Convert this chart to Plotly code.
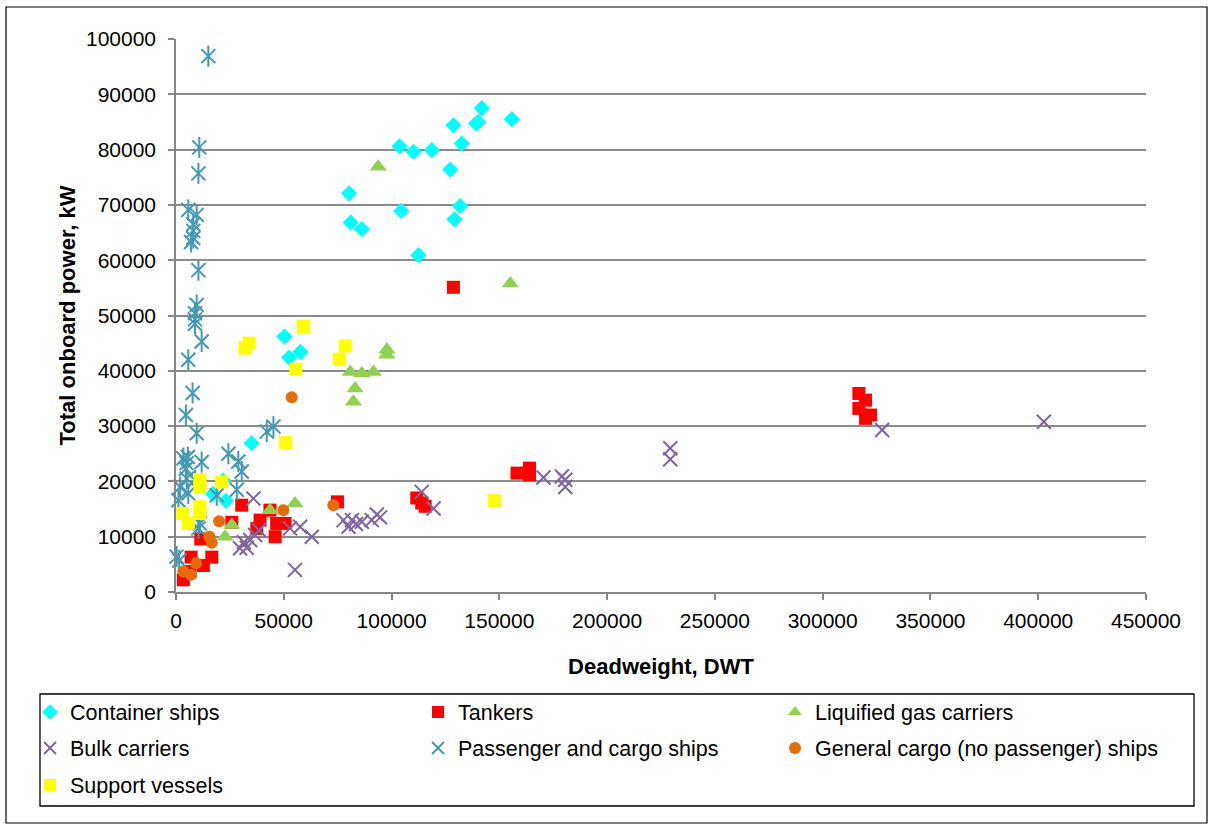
import plotly.graph_objects as go

# ---- data (deadweight DWT, total onboard power kW) ----
container_x = [141900, 140200, 139300, 155800, 128700, 132600, 103700, 110200, 118700, 127200,
               80300, 104500, 131800, 129200, 81100, 86200, 112500, 50300, 52500, 57700,
               35100, 21800, 17200, 23200]
container_y = [87500, 85000, 84700, 85500, 84400, 81100, 80600, 79600, 79900, 76400,
               72100, 68900, 69800, 67400, 66800, 65600, 60900, 46200, 42400, 43400,
               26900, 20200, 17700, 16500]

tanker_x = [3400, 6500, 7000, 12700, 16600, 11500, 25900, 30500, 37500, 39000, 43600, 46700,
            46000, 50600, 74900, 111700, 114000, 115600, 158200, 164000, 164000, 128700,
            316800, 319900, 316800, 322200, 319900]
tanker_y = [2200, 3700, 6300, 4800, 6300, 9600, 12600, 15700, 11500, 13000, 14800, 12400,
            10000, 12400, 16300, 17000, 16100, 15500, 21500, 22400, 21200, 55100,
            35900, 34700, 33200, 32000, 31400]

gas_x = [93800, 155100, 97800, 97800, 80800, 86200, 91600, 83100, 82300, 55200, 43600, 25900, 22700]
gas_y = [76900, 55800, 43800, 42900, 39800, 39500, 39800, 36800, 34400, 16000, 14800, 12100, 10000]

bulk_x = [29700, 31500, 32800, 34400, 36700, 38500, 35900, 55200, 52900, 57600, 63000, 77700,
          80000, 81600, 83500, 86200, 90800, 93200, 94700, 114000, 119500, 170500, 179000,
          180600, 180600, 229300, 229300, 327600, 402600]
bulk_y = [7900, 9000, 8000, 9400, 10300, 11200, 16900, 4000, 11500, 11800, 10000, 13000,
          11800, 13000, 12300, 12700, 13000, 14000, 13500, 18100, 15100, 20700, 20900,
          20300, 19000, 26000, 24000, 29300, 30800]

pax_x = [15000, 10800, 10400, 5700, 9600, 8000, 8000, 8000, 7000, 10400, 9600, 8800, 8800, 8800,
         11900, 5700, 7700, 4600, 9600, 42100, 45200, 3400, 5500, 4900, 11900, 24300, 28900,
         30500, 28200, 18900, 1900, 5700, 1100, 4600, 5000, 8800, 11100, 10400, 300, 1500]
pax_y = [96900, 80400, 75700, 69100, 68200, 66500, 65300, 64000, 63300, 58200, 51900, 50400,
         49300, 48500, 45300, 42000, 36000, 32000, 28700, 29000, 29900, 24200, 24400, 23300,
         23500, 25000, 23600, 21800, 18500, 17500, 19000, 17800, 16600, 22300, 20500, 20200,
         12400, 11500, 6400, 5700]

general_x = [3400, 7000, 9300, 15500, 16600, 20000, 49800, 53700, 73000]
general_y = [3700, 3100, 5200, 10000, 8900, 12800, 14800, 35200, 15700]

support_x = [33900, 32000, 59100, 55600, 50900, 78500, 75800, 147800, 11100, 11100, 21200,
             11100, 11100, 3100, 5700]
support_y = [45000, 44100, 48000, 40300, 27000, 44500, 42100, 16500, 20300, 19000, 19900,
             15400, 14200, 14200, 12400]

x_tick_vals = [0, 50000, 100000, 150000, 200000, 250000, 300000, 350000, 400000, 450000]
y_tick_vals = [0, 10000, 20000, 30000, 40000, 50000, 60000, 70000, 80000, 90000, 100000]

# ---- layout geometry (pixels) ----
W, H = 1212, 825
ML, MR, MT, MB = 176, 66, 39, 233
PW, PH = W - ML - MR, H - MT - MB


def px_x(p):
    return (p - ML) / PW


def px_y(p):
    return (H - MB - p) / PH


FONT = "Liberation Sans, Arial, sans-serif"

fig = go.Figure()

series = [
    ("Container ships", container_x, container_y, dict(symbol="diamond", size=12.5, color="#00FFFF"), "legend"),
    ("Tankers", tanker_x, tanker_y, dict(symbol="square", size=13, color="#FF0000"), "legend2"),
    ("Liquified gas carriers", gas_x, gas_y, dict(symbol="triangle-up", size=15, color="#92D050"), "legend3"),
    ("Bulk carriers", bulk_x, bulk_y,
     dict(symbol="x-thin-open", size=14, color="#8064A2", line=dict(width=2, color="#8064A2")), "legend4"),
    ("Passenger and cargo ships", pax_x, pax_y,
     dict(symbol="x-thin-open", size=14, color="#4299B3", line=dict(width=2, color="#4299B3")), "legend5"),
    ("General cargo (no passenger) ships", general_x, general_y,
     dict(symbol="circle", size=12, color="#E46C0A"), "legend6"),
    ("Support vessels", support_x, support_y, dict(symbol="square", size=13, color="#FFFF00"), "legend7"),
]

for name, xs, ys, mk, lg in series:
    fig.add_trace(go.Scatter(x=xs, y=ys, mode="markers", name=name, marker=mk,
                             cliponaxis=False, legend=lg))
    if name == "Passenger and cargo ships":
        fig.add_trace(go.Scatter(x=xs, y=ys, mode="markers", showlegend=False,
                                 marker=dict(symbol="line-ns-open", size=15, color="#4299B3",
                                             line=dict(width=2, color="#4299B3")),
                                 cliponaxis=False, hoverinfo="skip"))

# legend positions: (text-left px, row-centre px)
legend_pos = {
    "legend": (70, 712), "legend2": (458, 712), "legend3": (815, 712),
    "legend4": (70, 748), "legend5": (458, 748), "legend6": (815, 748),
    "legend7": (70, 785),
}
legend_layouts = {}
for key, (tx, ty) in legend_pos.items():
    legend_layouts[key] = dict(
        x=px_x(tx - 40), y=px_y(ty), xanchor="left", yanchor="middle",
        orientation="v", bgcolor="rgba(0,0,0,0)", borderwidth=0,
        itemsizing="constant", font=dict(family=FONT, size=21.5, color="#000000"),
    )

fig.update_layout(
    width=W, height=H,
    margin=dict(l=ML, r=MR, t=MT, b=MB, pad=0),
    paper_bgcolor="white", plot_bgcolor="white",
    font=dict(family=FONT, size=21, color="#000000"),
    xaxis=dict(
        range=[0, 450000], tickvals=x_tick_vals, ticktext=[str(v) for v in x_tick_vals],
        showgrid=False, zeroline=False, showline=True, linecolor="#868686", linewidth=1.5,
        ticks="outside", ticklen=6, tickcolor="#868686", tickwidth=1.5,
        ticklabelstandoff=3,
        tickfont=dict(family=FONT, size=21, color="#000000"),
        title=dict(text="<b>Deadweight, DWT</b>", standoff=28,
                   font=dict(family=FONT, size=22, color="#000000")),
    ),
    yaxis=dict(
        range=[0, 100000], tickvals=y_tick_vals, ticktext=[str(v) for v in y_tick_vals],
        showgrid=True, gridcolor="#8C8C8C", gridwidth=1.5,
        zeroline=False, showline=True, linecolor="#868686", linewidth=1.5,
        ticks="outside", ticklen=6, tickcolor="#868686", tickwidth=1.5,
        ticklabelstandoff=8,
        tickfont=dict(family=FONT, size=21, color="#000000"),
        title=dict(text="<b>Total onboard power, kW</b>", standoff=4,
                   font=dict(family=FONT, size=22, color="#000000")),
    ),
    shapes=[
        # legend frame
        dict(type="rect", xref="paper", yref="paper",
             x0=px_x(40), x1=px_x(1194), y0=px_y(806), y1=px_y(694),
             line=dict(color="#000000", width=1.3), fillcolor="rgba(0,0,0,0)", layer="below"),
        # outer chart border
        dict(type="rect", xref="paper", yref="paper",
             x0=px_x(6), x1=px_x(1207), y0=px_y(823), y1=px_y(7),
             line=dict(color="#000000", width=1.2), fillcolor="rgba(0,0,0,0)", layer="below"),
    ],
    **legend_layouts,
)

fig.write_html("out.html")
